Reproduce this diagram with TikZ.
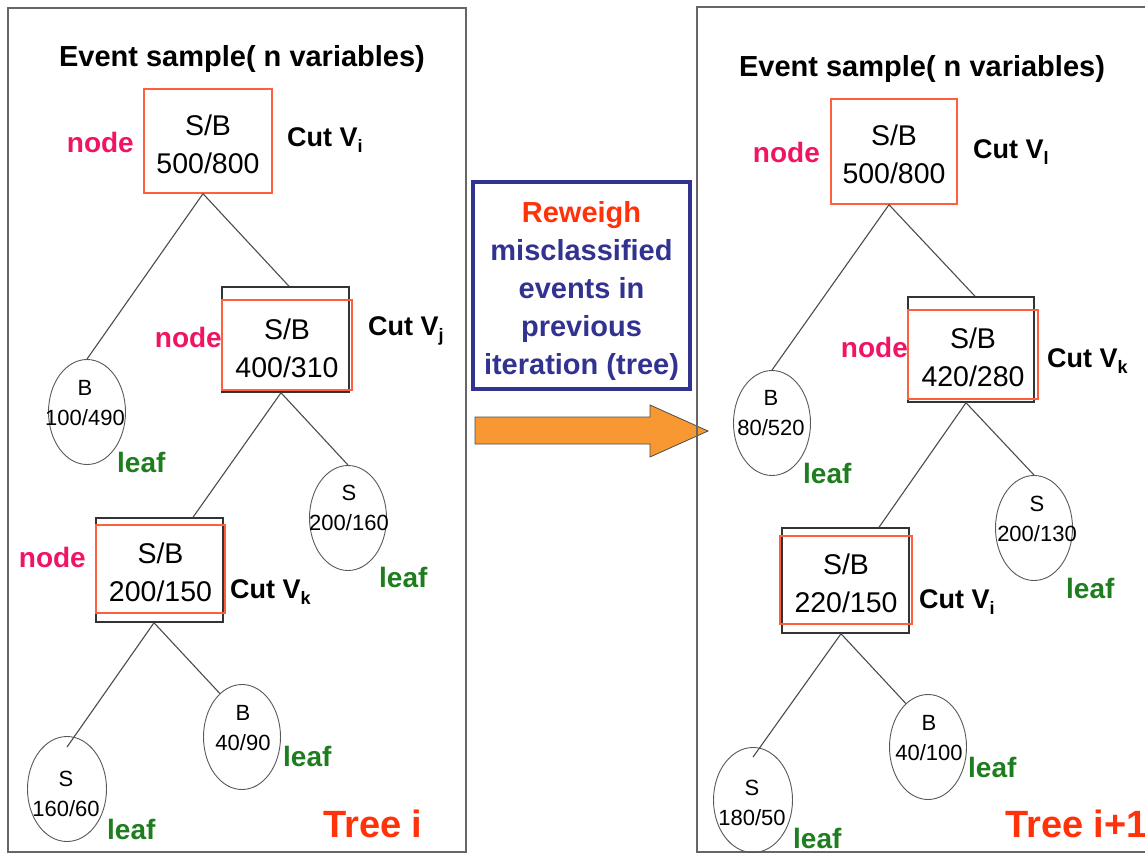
\documentclass[tikz,border=0pt]{standalone}
\usepackage{fontspec}
\setmainfont{Liberation Sans}
\usetikzlibrary{shapes.geometric}
\definecolor{boxred}{RGB}{255,95,60}
\definecolor{nodepink}{RGB}{240,20,100}
\definecolor{leafgreen}{RGB}{30,125,30}
\definecolor{treered}{RGB}{255,50,10}
\definecolor{navy}{RGB}{50,50,145}
\definecolor{arroworange}{RGB}{248,152,50}
\tikzset{
  frame/.style={draw=black!60, line width=1.5pt},
  rootbox/.style={draw=boxred, line width=1.4pt, inner sep=0pt, align=center,
    font=\fontsize{28.5}{38}\selectfont},
  blackbox/.style={draw=black!80, line width=1.5pt, inner sep=0pt},
  redbox/.style={draw=boxred, line width=1.4pt, inner sep=0pt, align=center,
    font=\fontsize{28.5}{38}\selectfont},
  leafshape/.style={ellipse, draw=black!65, line width=0.9pt, inner sep=0pt,
    minimum width=77pt, minimum height=105pt},
  leaftext/.style={inner sep=0pt, align=center, font=\fontsize{22}{30}\selectfont},
  conn/.style={draw=black!70, line width=1.1pt},
  nodelbl/.style={inner sep=0pt, anchor=base east, text=nodepink,
    font=\bfseries\fontsize{28}{28}\selectfont},
  leaflbl/.style={inner sep=0pt, anchor=base west, text=leafgreen,
    font=\bfseries\fontsize{28}{28}\selectfont},
  cutlbl/.style={inner sep=0pt, anchor=base west,
    font=\bfseries\fontsize{27}{27}\selectfont},
  titlelbl/.style={inner sep=0pt, anchor=base,
    font=\bfseries\fontsize{29}{29}\selectfont},
  treelbl/.style={inner sep=0pt, anchor=base west, text=treered,
    font=\bfseries\fontsize{38}{38}\selectfont},
}
\newcommand{\subv}[1]{\raisebox{-6pt}{\fontsize{18}{18}\selectfont #1}}
\newcommand{\up}{\rule{0pt}{27pt}}
\newcommand{\upp}{\rule{0pt}{32pt}}
\begin{document}
\begin{tikzpicture}[x=1pt,y=-1pt]
\useasboundingbox (0,0) rectangle (1145,853);
\clip (0,0) rectangle (1145,853);
\fill[white] (0,0) rectangle (1145,853);

% ---------------- middle ----------------
\node[draw=navy, line width=4pt, minimum width=217pt, minimum height=207pt,
  inner sep=0pt, align=center, text=navy,
  font=\bfseries\fontsize{29}{38}\selectfont] (msg) at (581.5,285.5)
  {\upp\textcolor{treered}{Reweigh}\\misclassified\\events in\\previous\\iteration (tree)};
\draw[fill=arroworange, draw=black!70, line width=0.8pt]
  (475,417) -- (650,417) -- (650,405) -- (708,431) -- (650,457) -- (650,444) -- (475,444) -- cycle;

% ---------------- frames ----------------
\draw[frame] (8,8) rectangle (466,852);
\draw[frame] (697,7) rectangle (1160,852);

% ---------------- left tree ----------------
\node[titlelbl] (t1) at (242,67) {Event sample( n variables)};
\node[rootbox, minimum width=128pt, minimum height=104pt] (lroot) at (208,141) {\up S/B\\500/800};
\node[nodelbl] (lrootn) at (134,153) {node};
\node[cutlbl] (lrootc) at (287,147) {Cut V\subv{i}};

\node[blackbox, minimum width=127pt, minimum height=105pt] (ln2) at (285.5,339.5) {};
\node[redbox, minimum width=130pt, minimum height=90pt] (ln2o) at (287,345) {\up S/B\\400/310};
\node[nodelbl] (ln2n) at (222,347) {node};
\node[cutlbl] (ln2c) at (368,335) {Cut V\subv{j}};

\node[blackbox, minimum width=127pt, minimum height=104pt] (ln3) at (159.5,570) {};
\node[redbox, minimum width=129pt, minimum height=88pt] (ln3o) at (160.5,569) {\up S/B\\200/150};
\node[nodelbl] (ln3n) at (86,567) {node};
\node[cutlbl] (ln3c) at (230,598) {Cut V\subv{k}};

\node[leafshape] (lB1) at (87,412) {};
\node[leaftext] (lB1t) at (85,403.5) {B\\100/490};
\node[leaflbl] (lB1l) at (117,472) {leaf};

\node[leafshape] (lS1) at (348,518) {};
\node[leaftext] (lS1t) at (349,508) {S\\200/160};
\node[leaflbl] (lS1l) at (379,587) {leaf};

\node[leafshape, minimum width=79pt] (lS2) at (67,789) {};
\node[leaftext] (lS2t) at (66,793.5) {S\\160/60};
\node[leaflbl] (lS2l) at (107,839) {leaf};

\node[leafshape] (lB2) at (242,737) {};
\node[leaftext] (lB2t) at (243,728.5) {B\\40/90};
\node[leaflbl] (lB2l) at (283,766) {leaf};

\node[treelbl] (ltree) at (323,837) {Tree i};

\draw[conn] ([xshift=-5pt]lroot.south) -- (lB1.north);
\draw[conn] ([xshift=-5pt]lroot.south) -- ([xshift=3.5pt]ln2.north);
\draw[conn] ([xshift=-4.5pt]ln2.south) -- ([xshift=33.5pt]ln3.north);
\draw[conn] ([xshift=-4.5pt]ln2.south) -- (lS1.north);
\draw[conn] ([xshift=-5.5pt]ln3.south) -- ([yshift=-11pt]lS2.north);
\draw[conn] ([xshift=-5.5pt]ln3.south) -- (lB2.117);

% ---------------- right tree ----------------
\node[titlelbl] (t2) at (922,77) {Event sample( n variables)};
\node[rootbox, minimum width=126pt, minimum height=105pt] (rroot) at (894,151.5) {\up S/B\\500/800};
\node[nodelbl] (rrootn) at (820,163) {node};
\node[cutlbl] (rrootc) at (973,159) {Cut V\subv{l}};

\node[blackbox, minimum width=126pt, minimum height=105pt] (rn2) at (971,349.5) {};
\node[redbox, minimum width=130pt, minimum height=89pt] (rn2o) at (973,354.5) {\up S/B\\420/280};
\node[nodelbl] (rn2n) at (908,357) {node};
\node[cutlbl] (rn2c) at (1047,367) {Cut V\subv{k}};

\node[blackbox, minimum width=127pt, minimum height=105pt] (rn3) at (845.5,580.5) {};
\node[redbox, minimum width=132pt, minimum height=88pt] (rn3o) at (846,580) {\up S/B\\220/150};
\node[cutlbl] (rn3c) at (919,608) {Cut V\subv{i}};

\node[leafshape] (rB1) at (772,423) {};
\node[leaftext] (rB1t) at (771,413.5) {B\\80/520};
\node[leaflbl] (rB1l) at (803,483) {leaf};

\node[leafshape] (rS1) at (1034,528) {};
\node[leaftext] (rS1t) at (1037,519) {S\\200/130};
\node[leaflbl] (rS1l) at (1066,598) {leaf};

\node[leafshape, minimum width=79pt] (rS2) at (753,800) {};
\node[leaftext] (rS2t) at (752,802.5) {S\\180/50};
\node[leaflbl] (rS2l) at (793,848) {leaf};

\node[leafshape] (rB2) at (928,747) {};
\node[leaftext] (rB2t) at (929,738.5) {B\\40/100};
\node[leaflbl] (rB2l) at (968,777) {leaf};

\node[treelbl] (rtree) at (1005,837) {Tree i+1};

\draw[conn] ([xshift=-5pt]rroot.south) -- (rB1.north);
\draw[conn] ([xshift=-5pt]rroot.south) -- ([xshift=4pt]rn2.north);
\draw[conn] ([xshift=-5pt]rn2.south) -- ([xshift=33.5pt]rn3.north);
\draw[conn] ([xshift=-5pt]rn2.south) -- (rS1.north);
\draw[conn] ([xshift=-4.5pt]rn3.south) -- ([yshift=-10pt]rS2.north);
\draw[conn] ([xshift=-4.5pt]rn3.south) -- (rB2.117);
\end{tikzpicture}
\end{document}
